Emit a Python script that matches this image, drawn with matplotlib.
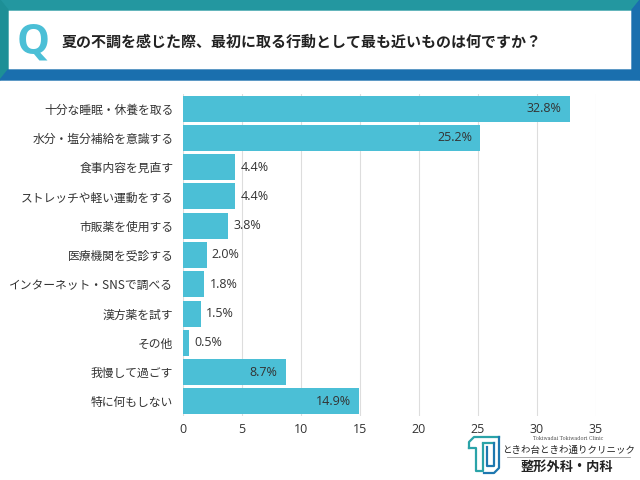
import matplotlib
matplotlib.use('Agg')
import matplotlib.pyplot as plt
from matplotlib.patches import Polygon

plt.rcParams['font.family'] = ['Noto Sans CJK JP', 'DejaVu Sans']

categories = ['十分な睡眠・休養を取る', '水分・塩分補給を意識する', '食事内容を見直す',
              'ストレッチや軽い運動をする', '市販薬を使用する', '医療機関を受診する',
              'インターネット・SNSで調べる', '漢方薬を試す', 'その他',
              '我慢して過ごす', '特に何もしない']
values = [32.8, 25.2, 4.4, 4.4, 3.8, 2.0, 1.8, 1.5, 0.5, 8.7, 14.9]
inside = [True, True, False, False, False, False, False, False, False, True, True]
xticks = [0, 5, 10, 15, 20, 25, 30, 35]

bar_color = '#4bbfd6'
text_color = '#333333'
num_font = ['Open Sans', 'DejaVu Sans']

fig = plt.figure(figsize=(6.4, 4.8), dpi=100)

# header banner
bg = fig.add_axes([0, 0, 1, 1])
bg.set_xlim(0, 640)
bg.set_ylim(480, 0)
bg.axis('off')
bg.add_patch(Polygon([[0, 0], [640, 0], [632, 10], [8, 10]], color='#2397a0'))
bg.add_patch(Polygon([[0, 0], [8, 10], [8, 70], [0, 80]], color='#1d8f96'))
bg.add_patch(Polygon([[640, 0], [640, 80], [632, 70], [632, 10]], color='#1a6fae'))
bg.add_patch(Polygon([[0, 80], [640, 80], [632, 70], [8, 70]], color='#1a6fae'))
bg.text(33, 43, 'Q', fontsize=30, color='#4bbfd6', fontweight='bold',
        ha='center', va='center', family=num_font)
bg.text(62, 42, '夏の不調を感じた際、最初に取る行動として最も近いものは何ですか？',
        fontsize=10.8, fontweight='bold', color='#222222', ha='left', va='center')

# logo
c1 = '#2aa3a8'
c2 = '#1e78b0'
bg.plot([469, 469, 474, 499], [448, 442, 437, 437], color=c1, lw=1.6)
bg.plot([469, 476, 476, 483, 483], [448, 448, 471, 471, 444], color=c1, lw=1.6)
bg.plot([483, 494], [443, 443], color=c1, lw=1.6)
bg.plot([487, 487, 494, 494], [447, 466, 466, 443], color=c2, lw=1.6)
bg.plot([499, 499, 494, 484], [437, 468, 473, 473], color=c2, lw=1.6)
bg.text(568, 439, 'Tokiwadai Tokiwadori Clinic', fontsize=3.5, color='#555555',
        ha='center', va='center', family=['DejaVu Serif'])
bg.text(569, 450, 'ときわ台ときわ通りクリニック', fontsize=6.8, color='#222222',
        ha='center', va='center')
bg.plot([507, 630], [457, 457], color='#999999', lw=0.6)
bg.text(567, 467, '整形外科・内科', fontsize=9.5, fontweight='bold', color='#222222',
        ha='center', va='center')

ax = fig.add_axes([183 / 640, 1 - 416 / 480, 413 / 640, 322 / 480])
ax.set_facecolor('none')
y = list(range(len(categories)))
ax.barh(y, values, height=0.89, color=bar_color)
for yi, v, ins in zip(y, values, inside):
    if ins:
        ax.text(v - 0.7, yi, f'{v}%', ha='right', va='center', fontsize=9,
                color=text_color, family=num_font)
    else:
        ax.text(v + 0.45, yi, f'{v}%', ha='left', va='center', fontsize=9,
                color=text_color, family=num_font)

ax.set_xlim(0, 35)
ax.set_ylim(len(categories) - 0.5, -0.5)
ax.set_xticks(xticks)
ax.set_xticklabels([str(t) for t in xticks], family=num_font)
ax.set_yticks(y)
ax.set_yticklabels(categories)
ax.tick_params(axis='y', length=0, labelsize=8.5, colors=text_color, pad=7)
ax.tick_params(axis='x', length=0, labelsize=9, colors=text_color, pad=5)
ax.grid(axis='x', color='#dddddd', lw=0.8)
ax.set_axisbelow(True)
for s in ax.spines.values():
    s.set_visible(False)

fig.savefig('out.png', dpi=100)
